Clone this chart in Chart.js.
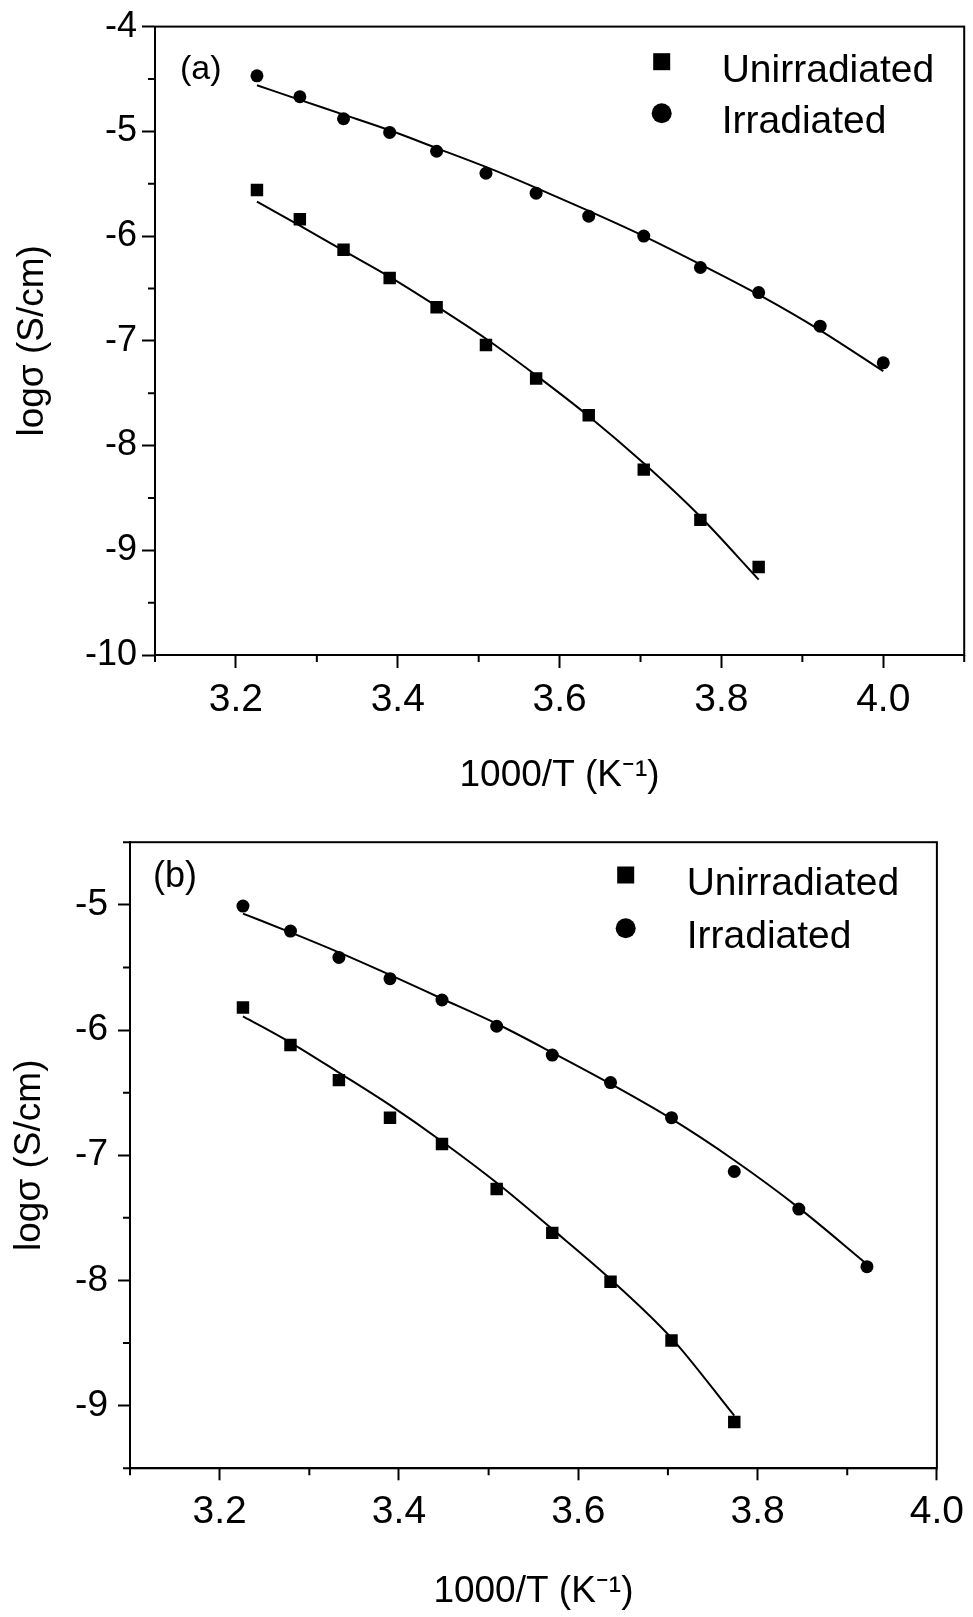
<!DOCTYPE html>
<html>
<head>
<meta charset="utf-8">
<script src="https://cdn.jsdelivr.net/npm/chart.js@4.4.0/dist/chart.umd.min.js"></script>
<style>
html,body{margin:0;padding:0;background:#fff;}
#wrapA{position:absolute;left:0;top:0;width:973px;height:810px;}
#wrapB{position:absolute;left:0;top:810px;width:973px;height:807px;}
canvas{display:block;}
</style>
</head>
<body>
<div id="wrapA"><canvas id="cA" width="973" height="810"></canvas></div>
<div id="wrapB"><canvas id="cB" width="973" height="807"></canvas></div>
<script>
// ---------------- data ----------------
const seriesNames = ['Unirradiated', 'Irradiated'];
const panelLabels = ['(a)', '(b)'];
const xTitle = '1000/T (K\u207B\u00B9)';
const yTitle = 'log\u03C3 (S/cm)';

// Panel (a)
const xA_un  = [3.226, 3.279, 3.333, 3.390, 3.448, 3.509, 3.571, 3.636, 3.704, 3.774, 3.846];
const yA_un  = [-5.56, -5.84, -6.13, -6.40, -6.68, -7.04, -7.36, -7.71, -8.23, -8.71, -9.16];
const yA_unFit = [-5.67, -5.90, -6.14, -6.39, -6.67, -6.98, -7.33, -7.72, -8.17, -8.68, -9.28];
const xA_irr = [3.226, 3.279, 3.333, 3.390, 3.448, 3.509, 3.571, 3.636, 3.704, 3.774, 3.846, 3.922, 4.000];
const yA_irr = [-4.47, -4.67, -4.88, -5.01, -5.19, -5.40, -5.59, -5.81, -6.00, -6.30, -6.54, -6.86, -7.21];
const yA_irrFit = [-4.56, -4.70, -4.84, -4.99, -5.16, -5.34, -5.54, -5.76, -6.00, -6.27, -6.56, -6.90, -7.29];
const xA_major = [3.2, 3.4, 3.6, 3.8, 4.0];
const xA_minor = [3.1, 3.3, 3.5, 3.7, 3.9, 4.1];
const yA_major = [-10, -9, -8, -7, -6, -5, -4];
const yA_minor = [-9.5, -8.5, -7.5, -6.5, -5.5, -4.5];

// Panel (b)
const xB_un  = [3.226, 3.279, 3.333, 3.390, 3.448, 3.509, 3.571, 3.636, 3.704, 3.774];
const yB_un  = [-5.82, -6.12, -6.40, -6.70, -6.91, -7.27, -7.62, -8.01, -8.48, -9.13];
const yB_unFit = [-5.89, -6.10, -6.34, -6.60, -6.89, -7.22, -7.59, -7.99, -8.46, -9.08];
const xB_irr = [3.226, 3.279, 3.333, 3.390, 3.448, 3.509, 3.571, 3.636, 3.704, 3.774, 3.846, 3.922];
const yB_irr = [-5.01, -5.21, -5.42, -5.59, -5.76, -5.97, -6.20, -6.42, -6.70, -7.13, -7.43, -7.89];
const yB_irrFit = [-5.07, -5.22, -5.38, -5.56, -5.75, -5.95, -6.18, -6.43, -6.71, -7.04, -7.42, -7.87];
const xB_major = [3.2, 3.4, 3.6, 3.8, 4.0];
const xB_minor = [3.1, 3.3, 3.5, 3.7, 3.9];
const yB_major = [-9, -8, -7, -6, -5];
const yB_minor = [-9.5, -8.5, -7.5, -6.5, -5.5, -4.5];

// ---------------- drawing ----------------
const FONT = '"Liberation Sans", Arial, Helvetica, sans-serif';
const toXY = (xs, ys) => xs.map((x, i) => ({x: x, y: ys[i]}));

const decorPlugin = {
  id: 'decor',
  afterDraw(chart, args, o) {
    const ctx = chart.ctx, a = chart.chartArea;
    const xs = chart.scales.x, ys = chart.scales.y;
    ctx.save();
    ctx.strokeStyle = '#000';
    ctx.lineWidth = 2;
    ctx.strokeRect(a.left, a.top, a.right - a.left, a.bottom - a.top);
    ctx.beginPath();
    o.xMinor.forEach(v => { const p = xs.getPixelForValue(v); ctx.moveTo(p, a.bottom); ctx.lineTo(p, a.bottom + o.minorLen); });
    o.yMinor.forEach(v => { const p = ys.getPixelForValue(v); ctx.moveTo(a.left, p); ctx.lineTo(a.left - o.minorLen, p); });
    ctx.stroke();
    ctx.fillStyle = '#000';
    ctx.textAlign = 'left';
    ctx.textBaseline = 'alphabetic';
    ctx.font = o.labelSize + 'px ' + FONT;
    ctx.fillText(o.label, o.labelX, o.labelY);
    // legend
    ctx.font = o.legendSize + 'px ' + FONT;
    const items = chart.data.datasets.filter(d => !d.isFit);
    items.forEach((d, i) => {
      const cy = o.legendY[i];
      if (d.pointStyle === 'rect') {
        const s = o.legendSquare;
        ctx.fillRect(o.legendMarkX - s / 2, cy - s / 2, s, s);
      } else {
        ctx.beginPath();
        ctx.arc(o.legendMarkX, cy, o.legendCircle / 2, 0, Math.PI * 2);
        ctx.fill();
      }
      ctx.fillText(d.label, o.legendTextX, o.legendBase[i]);
    });
    ctx.restore();
  }
};

function buildPanel(id, P) {
  const datasets = [
    {label: 'fit ' + seriesNames[0], isFit: true, data: toXY(P.xUn, P.yUnFit), showLine: true, pointRadius: 0,
     borderColor: '#000', borderWidth: 2, cubicInterpolationMode: 'monotone', fill: false, order: 3},
    {label: 'fit ' + seriesNames[1], isFit: true, data: toXY(P.xIrr, P.yIrrFit), showLine: true, pointRadius: 0,
     borderColor: '#000', borderWidth: 2, cubicInterpolationMode: 'monotone', fill: false, order: 3},
    {label: seriesNames[0], data: toXY(P.xUn, P.yUn), pointStyle: 'rect', pointRadius: 8.8,
     backgroundColor: '#000', borderColor: '#000', borderWidth: 0, showLine: false, order: 1},
    {label: seriesNames[1], data: toXY(P.xIrr, P.yIrr), pointStyle: 'circle', pointRadius: 6.5,
     backgroundColor: '#000', borderColor: '#000', borderWidth: 0, showLine: false, order: 1}
  ];
  return new Chart(document.getElementById(id), {
    type: 'scatter',
    data: {datasets: datasets},
    options: {
      responsive: false,
      animation: false,
      devicePixelRatio: 1,
      layout: {padding: {top: P.padTop, right: P.padRight, left: 0, bottom: 0}},
      plugins: {
        legend: {display: false},
        tooltip: {enabled: false},
        decor: P.decor
      },
      scales: {
        x: {
          type: 'linear', position: 'bottom', min: P.xMin, max: P.xMax,
          afterBuildTicks: s => { s.ticks = P.xMajor.map(v => ({value: v})); },
          afterFit: s => { s.height = P.xAxisH; },
          ticks: {font: {family: FONT, size: P.xTickSize}, color: '#000', padding: P.xTickPad,
                  maxRotation: 0, autoSkip: false, callback: v => Number(v).toFixed(1)},
          grid: {drawOnChartArea: false, drawTicks: true, tickLength: P.majorLen, tickWidth: 2, tickColor: '#000'},
          border: {display: true, color: '#000', width: 2},
          title: {display: true, text: xTitle, color: '#000', font: {family: FONT, size: P.xTitleSize},
                  padding: {top: 0, bottom: P.xTitlePadB}}
        },
        y: {
          type: 'linear', position: 'left', min: P.yMin, max: P.yMax,
          afterBuildTicks: s => { s.ticks = P.yMajor.map(v => ({value: v})); },
          afterFit: s => { s.width = P.yAxisW; },
          ticks: {font: {family: FONT, size: P.yTickSize}, color: '#000', padding: P.yTickPad,
                  autoSkip: false, callback: v => String(v)},
          grid: {drawOnChartArea: false, drawTicks: true, tickLength: P.majorLen, tickWidth: 2, tickColor: '#000'},
          border: {display: true, color: '#000', width: 2},
          title: {display: true, text: yTitle, color: '#000', font: {family: FONT, size: P.yTitleSize},
                  padding: {top: P.yTitlePadT, bottom: 0}}
        }
      }
    },
    plugins: [decorPlugin]
  });
}

buildPanel('cA', {
  xUn: xA_un, yUn: yA_un, yUnFit: yA_unFit, xIrr: xA_irr, yIrr: yA_irr, yIrrFit: yA_irrFit,
  xMin: 3.1, xMax: 4.1, yMin: -10, yMax: -4, xMajor: xA_major, yMajor: yA_major,
  padTop: 22.7, padRight: 5, yAxisW: 155, xAxisH: 155,
  xTickSize: 39, xTickPad: 9, yTickSize: 36, yTickPad: 5, majorLen: 13,
  xTitleSize: 37, xTitlePadB: 11.8, yTitleSize: 37, yTitlePadT: 10.3,
  decor: {xMinor: xA_minor, yMinor: yA_minor, minorLen: 7,
    label: panelLabels[0], labelSize: 34, labelX: 180, labelY: 79,
    legendSize: 39, legendMarkX: 661.7, legendY: [61.7, 113.3], legendSquare: 17, legendCircle: 20,
    legendTextX: 721.7, legendBase: [81.6, 133]}
});

buildPanel('cB', {
  xUn: xB_un, yUn: yB_un, yUnFit: yB_unFit, xIrr: xB_irr, yIrr: yB_irr, yIrrFit: yB_irrFit,
  xMin: 3.1, xMax: 4.0, yMin: -9.5, yMax: -4.5, xMajor: xB_major, yMajor: yB_major,
  padTop: 25.7, padRight: 31.3, yAxisW: 130, xAxisH: 148.7,
  xTickSize: 39, xTickPad: 9, yTickSize: 37, yTickPad: 10, majorLen: 12,
  xTitleSize: 37, xTitlePadB: 3.1, yTitleSize: 37, yTitlePadT: 7.8,
  decor: {xMinor: xB_minor, yMinor: yB_minor, minorLen: 7,
    label: panelLabels[1], labelSize: 36, labelX: 153, labelY: 77.4,
    legendSize: 39, legendMarkX: 625.7, legendY: [65, 118.3], legendSquare: 17, legendCircle: 20,
    legendTextX: 686.7, legendBase: [85, 138.3]}
});
</script>
</body>
</html>
